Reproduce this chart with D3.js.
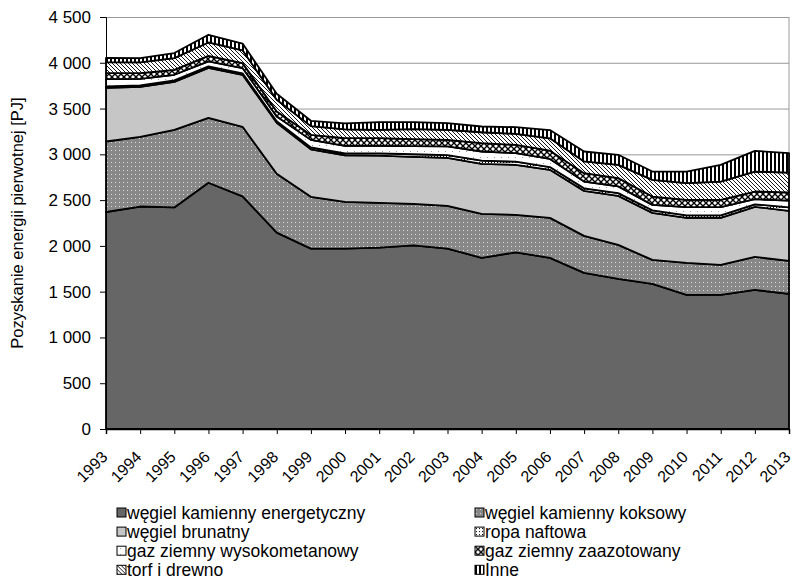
<!DOCTYPE html>
<html>
<head>
<meta charset="utf-8">
<script src="https://cdn.jsdelivr.net/npm/d3@7"></script>
<style>
  body { margin: 0; background: #fff; }
  text { font-family: "Liberation Sans", Arial, sans-serif; fill: #000; }
</style>
</head>
<body>
<div id="chart"></div>
<script>
// data [PJ]
var years = [1993, 1994, 1995, 1996, 1997, 1998, 1999, 2000, 2001, 2002, 2003,
             2004, 2005, 2006, 2007, 2008, 2009, 2010, 2011, 2012, 2013];
var wegielEnerg = [2370, 2430, 2420, 2690, 2540, 2145, 1970, 1970, 1980, 2005, 1970,
                   1870, 1930, 1869, 1705, 1640, 1585, 1464, 1464, 1519, 1475];
var wegielKoks  = [770, 761, 848, 709, 761, 642, 566, 511, 490, 454, 467,
                   480, 409, 437, 404, 371, 262, 350, 328, 361, 361];
var wegielBrun  = [587, 547, 524, 546, 568, 557, 519, 509, 515, 514, 525,
                   546, 546, 525, 492, 535, 514, 492, 514, 546, 547];
var ropa        = [15, 15, 15, 15, 15, 18, 20, 20, 25, 28, 30,
                   35, 35, 30, 28, 30, 28, 28, 28, 28, 38];
var gazWysoko   = [80, 72, 62, 55, 58, 52, 83, 83, 83, 89, 94,
                   100, 93, 89, 74, 74, 59, 89, 89, 56, 74];
var gazZaazot   = [65, 62, 54, 61, 54, 54, 55, 84, 84, 76, 72,
                   91, 91, 90, 91, 90, 91, 80, 80, 84, 88];
var torf        = [120, 117, 128, 146, 140, 128, 95, 95, 91, 109, 110,
                   119, 120, 135, 128, 145, 182, 182, 200, 218, 218];
var inne        = [46, 46, 55, 84, 74, 65, 58, 66, 84, 77, 73,
                   63, 73, 90, 109, 110, 91, 127, 182, 226, 212];

var seriesNames = ["węgiel kamienny energetyczny", "węgiel kamienny koksowy",
                   "węgiel brunatny", "ropa naftowa", "gaz ziemny wysokometanowy",
                   "gaz ziemny zaazotowany", "torf i drewno", "Inne"];
var seriesValues = [wegielEnerg, wegielKoks, wegielBrun, ropa, gazWysoko, gazZaazot, torf, inne];
var yTicks = [0, 500, 1000, 1500, 2000, 2500, 3000, 3500, 4000, 4500];

var keys = d3.range(seriesNames.length).map(String);
var data = years.map(function(yr, i) {
  var row = {year: yr};
  seriesValues.forEach(function(s, k) { row[k] = s[i]; });
  return row;
});

var margin = {top: 17, right: 6, bottom: 151, left: 106},
    width = 795 - margin.left - margin.right,
    height = 580 - margin.top - margin.bottom;

var root = d3.select("#chart").append("svg")
    .attr("width", 795)
    .attr("height", 580);

// fills / patterns
var defs = root.append("defs");
function pattern(id, w, h) {
  return defs.append("pattern").attr("id", id)
    .attr("patternUnits", "userSpaceOnUse").attr("width", w).attr("height", h);
}
var p;
p = pattern("pKoks", 4, 4);
p.append("rect").attr("width", 4).attr("height", 4).attr("fill", "#888");
p.append("rect").attr("x", 1).attr("y", 1).attr("width", 1).attr("height", 1).attr("fill", "#ddd");
p = pattern("pRopa", 3, 3);
p.append("rect").attr("width", 3).attr("height", 3).attr("fill", "#fff");
p.append("rect").attr("x", 1).attr("y", 1).attr("width", 1).attr("height", 1).attr("fill", "#000");
p = pattern("pWysoko", 7, 6);
p.append("rect").attr("width", 7).attr("height", 6).attr("fill", "#fff");
p.append("rect").attr("x", 3).attr("y", 2).attr("width", 1).attr("height", 1).attr("fill", "#999");
p = pattern("pZaazot", 6, 6);
p.append("rect").attr("width", 6).attr("height", 6).attr("fill", "#fff");
p.append("path").attr("d", "M0,0L6,6M6,0L0,6").attr("stroke", "#000").attr("stroke-width", 1.4);
p = pattern("pTorf", 4, 4);
p.append("rect").attr("width", 4).attr("height", 4).attr("fill", "#fff");
p.append("path").attr("d", "M0,0L4,4M-1,3L1,5M3,-1L5,1").attr("stroke", "#000").attr("stroke-width", 0.9);
p = pattern("pInne", 4, 4);
p.append("rect").attr("width", 4).attr("height", 4).attr("fill", "#fff");
p.append("rect").attr("width", 2).attr("height", 4).attr("fill", "#000");

var fills = ["#666666", "url(#pKoks)", "#c6c6c6", "url(#pRopa)",
             "url(#pWysoko)", "url(#pZaazot)", "url(#pTorf)", "url(#pInne)"];

var svg = root.append("g")
    .attr("transform", "translate(" + margin.left + "," + margin.top + ")");

var x = d3.scaleLinear().domain([1993, 2013]).range([0, width]);
var y = d3.scaleLinear().domain([0, 4500]).range([height, 0]);

// gridlines
svg.append("g")
  .call(d3.axisLeft(y).tickValues(yTicks).tickSize(-width).tickFormat(""))
  .call(function(g) { g.select(".domain").remove(); })
  .selectAll("line").attr("stroke", "#999");

// right border of plot area
svg.append("line")
  .attr("x1", width).attr("x2", width).attr("y1", 0).attr("y2", height)
  .attr("stroke", "#999");

// stacked areas
var stacked = d3.stack().keys(keys)(data);
var area = d3.area()
  .x(function(d) { return x(d.data.year); })
  .y0(function(d) { return y(d[0]); })
  .y1(function(d) { return y(d[1]); });

svg.selectAll(".layer")
  .data(stacked)
  .join("path")
    .attr("class", "layer")
    .attr("d", area)
    .attr("fill", function(d, i) { return fills[i]; })
    .attr("stroke", "#000")
    .attr("stroke-width", 1.8)
    .attr("stroke-linejoin", "round");

// Y axis
var yAxis = svg.append("g")
  .call(d3.axisLeft(y).tickValues(yTicks).tickSize(6).tickPadding(9)
    .tickFormat(function(d) { return d3.format(",")(d).replace(",", "\u00a0"); }));
yAxis.selectAll("text").style("font-size", "17px");
yAxis.selectAll("line, path").attr("stroke", "#000");

// X axis
var xAxis = svg.append("g")
  .attr("transform", "translate(0," + height + ")")
  .call(d3.axisBottom(x).tickValues(years).tickSize(5).tickFormat(d3.format("d")));
xAxis.selectAll("line, path").attr("stroke", "#000");
xAxis.select(".domain").attr("stroke-width", 1.5);
xAxis.selectAll("text")
  .style("font-size", "16px")
  .attr("text-anchor", "end")
  .attr("transform", "translate(2,29) rotate(-45)")
  .attr("dx", 0).attr("dy", 0).attr("y", 0);

// Y axis title
root.append("text")
  .attr("transform", "translate(23," + (margin.top + height / 2) + ") rotate(-90)")
  .attr("text-anchor", "middle")
  .style("font-size", "16.5px")
  .text("Pozyskanie energii pierwotnej [PJ]");

// legend, 2 columns
var legend = root.append("g");
var item = legend.selectAll("g")
  .data(seriesNames)
  .join("g")
    .attr("transform", function(d, i) {
      return "translate(" + (i % 2 === 0 ? 117 : 475) + "," + (508 + Math.floor(i / 2) * 19.1) + ")";
    });
item.append("rect")
  .attr("width", 9).attr("height", 9)
  .attr("fill", function(d, i) { return fills[i]; })
  .attr("stroke", "#000");
item.append("text")
  .attr("x", 10).attr("y", 10.5)
  .style("font-size", "17.5px")
  .text(function(d) { return d; });
</script>
</body>
</html>
